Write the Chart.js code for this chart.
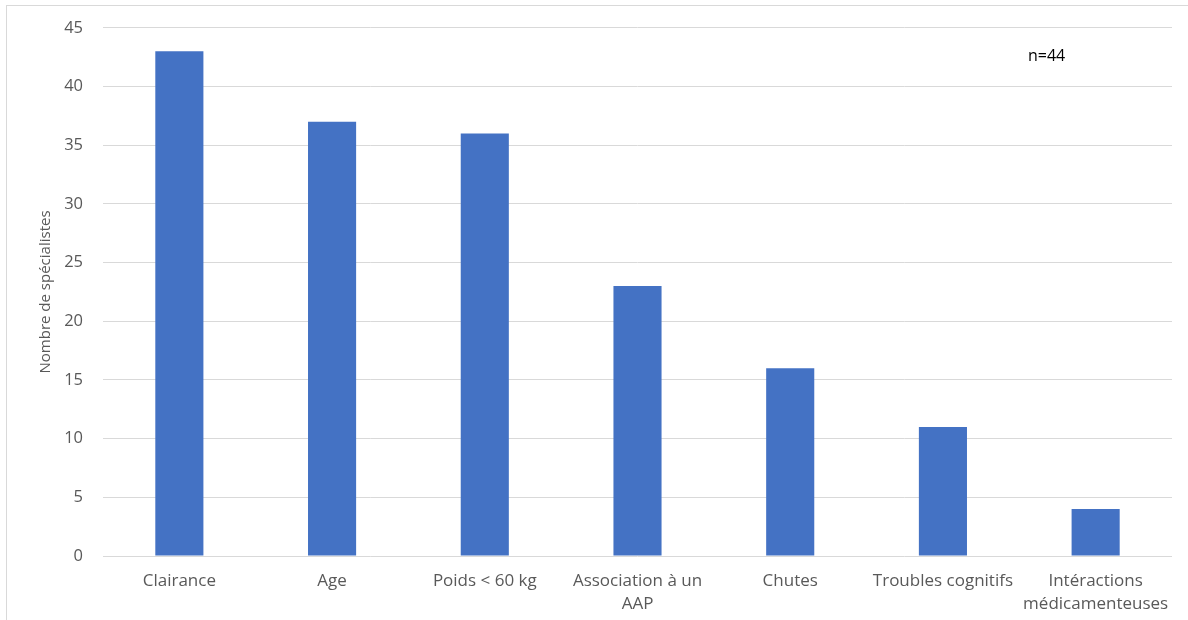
<!DOCTYPE html>
<html>
<head>
<meta charset="utf-8">
<script src="https://cdn.jsdelivr.net/npm/chart.js@4.4.1/dist/chart.umd.min.js"></script>
<style>
  html, body { margin: 0; padding: 0; background: #fff; overflow: hidden; }
  #frame {
    position: absolute; left: 6px; top: 5px;
    width: 1190px; height: 620px;
    border-left: 1px solid #d9d9d9; border-top: 1px solid #d9d9d9;
  }
  #wrap {
    position: absolute; left: 7px; top: -2px;
    width: 1181px; height: 615px;
  }
</style>
</head>
<body>
<div id="frame"></div>
<div id="wrap"><canvas id="chart"></canvas></div>
<script>
(function() {
    const categories = [
        'Clairance',
        'Age',
        'Poids < 60 kg',
        ['Association à un', 'AAP'],
        'Chutes',
        'Troubles cognitifs',
        ['Intéractions', 'médicamenteuses']
    ];
    const counts = [43, 37, 36, 23, 16, 11, 4];
    const yTicks = [0, 5, 10, 15, 20, 25, 30, 35, 40, 45];
    const note = 'n=44';

    const labelColor = '#595959';
    const font = 'Open Sans';

    // little text note in the top right corner of the plot
    const notePlugin = {
        id: 'note',
        afterDraw(chart) {
            const ctx = chart.ctx;
            const area = chart.chartArea;
            ctx.save();
            ctx.font = '16px "' + font + '"';
            ctx.fillStyle = '#000';
            ctx.textBaseline = 'middle';
            ctx.fillText(note, area.left + 925, chart.scales.y.getPixelForValue(42.6));
            ctx.restore();
        }
    };

    new Chart(document.getElementById('chart'), {
        type: 'bar',
        data: {
            labels: categories,
            datasets: [{
                label: 'Nombre de spécialistes',
                data: counts,
                backgroundColor: '#4472c4',
                categoryPercentage: 1,
                barPercentage: 0.315
            }]
        },
        options: {
            responsive: true,
            maintainAspectRatio: false,
            animation: false,
            layout: { padding: { top: 4, right: 16, left: 0, bottom: 0 } },
            plugins: {
                legend: { display: false },
                tooltip: { enabled: false }
            },
            scales: {
                x: {
                    grid: { display: false },
                    border: { display: false },
                    ticks: {
                        color: labelColor,
                        font: { family: font, size: 17, lineHeight: 1.35 },
                        padding: 6,
                        maxRotation: 0,
                        autoSkip: false
                    },
                    afterFit(scale) { scale.height = 57; }
                },
                y: {
                    min: 0,
                    max: 45,
                    afterBuildTicks(scale) { scale.ticks = yTicks.map(v => ({ value: v })); },
                    grid: { color: '#d9d9d9', drawTicks: false },
                    border: { display: false },
                    ticks: {
                        color: labelColor,
                        font: { family: font, size: 16.5 },
                        padding: 20
                    },
                    title: {
                        display: true,
                        text: 'Nombre de spécialistes',
                        color: labelColor,
                        font: { family: font, size: 15 },
                        padding: { top: 30, bottom: 0 }
                    },
                    afterFit(scale) { scale.width = 96; }
                }
            }
        },
        plugins: [notePlugin]
    });
})();
</script>
</body>
</html>
